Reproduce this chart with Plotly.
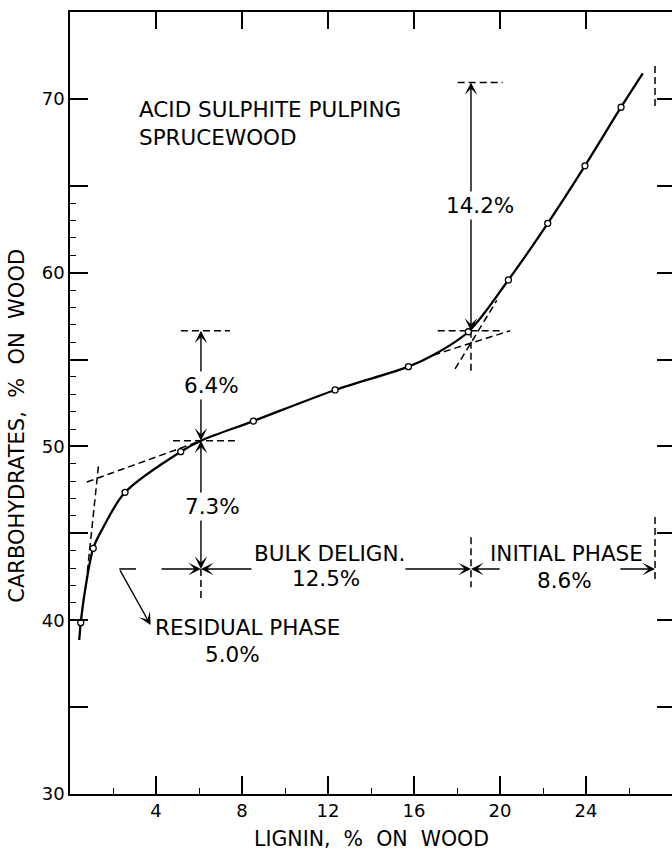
import plotly.graph_objects as go

# ---------------- data ----------------
# measured points (open circles): lignin % on wood vs carbohydrates % on wood
lignin_pts = [0.50, 1.08, 2.56, 5.15, 8.53, 12.33, 15.74, 18.53, 20.39, 22.22, 23.95, 25.63]
carb_pts = [39.86, 44.14, 47.36, 49.70, 51.46, 53.25, 54.59, 56.60, 59.58, 62.84, 66.15, 69.52]

# drawn smooth curve
curve_lignin = [0.43, 0.50, 0.70, 1.08, 1.55, 2.56, 5.15, 6.09, 8.53, 12.33,
                15.74, 16.90, 18.53, 20.39, 22.22, 23.95, 25.63, 26.64]
curve_carb = [38.86, 39.86, 41.71, 44.14, 45.35, 47.36, 49.70, 50.33, 51.46, 53.25,
              54.59, 55.26, 56.60, 59.58, 62.84, 66.15, 69.52, 71.47]

# dashed construction lines: (x0, y0, x1, y1)
dashed_segments = [
    (0.78, 47.95, 6.09, 50.33),     # bulk-line extension towards residual phase
    (1.32, 48.85, 0.78, 42.47),     # residual phase tangent
    (5.16, 56.66, 7.44, 56.66),     # top of 6.4 % bracket
    (4.79, 50.33, 7.77, 50.33),     # 50.3 % level
    (6.09, 42.95, 6.09, 41.20),     # boundary bulk (below arrows)
    (16.90, 55.26, 20.47, 56.66),   # bulk-line extension towards initial phase
    (17.91, 54.46, 19.85, 58.40),   # initial phase tangent
    (17.10, 56.66, 20.13, 56.66),   # 56.7 % level
    (18.65, 56.66, 18.65, 54.24),   # boundary below intersection
    (18.03, 70.95, 20.12, 70.95),   # top of 14.2 % bracket
    (18.65, 44.78, 18.65, 41.90),   # boundary initial (arrows)
    (27.21, 45.94, 27.21, 42.31),   # end of initial phase (arrows)
    (27.21, 71.89, 27.21, 69.40),   # end of initial phase (top)
]

# arrows: (tail x, tail y, head x, head y)
arrow_segments = [
    (18.65, 63.8, 18.65, 70.95),
    (18.65, 63.8, 18.65, 56.66),
    (6.09, 53.5, 6.09, 56.66),
    (6.09, 53.5, 6.09, 50.33),
    (6.09, 46.5, 6.09, 50.33),
    (6.09, 46.5, 6.09, 42.95),
    (4.19, 42.95, 6.09, 42.95),
    (8.51, 42.95, 6.09, 42.95),
    (15.53, 42.95, 18.65, 42.95),
    (20.05, 42.95, 18.65, 42.95),
    (25.53, 42.95, 27.21, 42.95),
    (2.29, 42.95, 3.75, 39.72),
]
residual_bar = (2.29, 3.07, 42.95)

# labels: (text, x, y, anchor, white background)
labels = [
    ("ACID SULPHITE PULPING<br>SPRUCEWOOD", 3.10, 68.57, "left", False),
    ("14.2%", 19.05, 63.89, "center", True),
    ("6.4%", 6.56, 53.52, "center", True),
    ("7.3%", 6.65, 46.53, "center", True),
    ("BULK DELIGN.", 12.09, 43.83, "center", False),
    ("12.5%", 11.90, 42.40, "center", False),
    ("INITIAL PHASE", 23.07, 43.84, "center", False),
    ("8.6%", 22.99, 42.29, "center", False),
    ("RESIDUAL PHASE", 8.26, 39.60, "center", False),
    ("5.0%", 7.56, 38.03, "center", False),
]

x_major = [4, 8, 12, 16, 20, 24]
x_minor = [2, 6, 10, 14, 18, 22, 26]
y_major = [30, 35, 40, 45, 50, 55, 60, 65, 70]
y_major_text = ["30", "", "40", "", "50", "", "60", "", "70"]
y_minor = [v for v in range(41, 65) if v % 5 != 0]
y_right = [35, 40, 45, 50, 55, 60, 65, 70]

x_title = "LIGNIN,\u00a0 %\u00a0 ON\u00a0 WOOD"
y_title = "CARBOHYDRATES,\u00a0 %\u00a0 ON\u00a0 WOOD"

FONT = "DejaVu Sans"
INK = "black"

# ---------------- figure ----------------
fig = go.Figure()

for (x0, y0, x1, y1) in dashed_segments:
    fig.add_trace(go.Scatter(x=[x0, x1], y=[y0, y1], mode="lines",
                             line=dict(color=INK, width=1.5, dash="7px,4px"),
                             hoverinfo="skip", showlegend=False))

fig.add_trace(go.Scatter(x=[residual_bar[0], residual_bar[1]], y=[residual_bar[2], residual_bar[2]],
                         mode="lines", line=dict(color=INK, width=1.5),
                         hoverinfo="skip", showlegend=False))

fig.add_trace(go.Scatter(x=curve_lignin, y=curve_carb, mode="lines",
                         line=dict(color=INK, width=2.3, shape="spline", smoothing=0.9),
                         hoverinfo="skip", showlegend=False))

fig.add_trace(go.Scatter(x=lignin_pts, y=carb_pts, mode="markers", xaxis="x2", yaxis="y2",
                         marker=dict(symbol="circle", size=6, color="white",
                                     line=dict(color=INK, width=1.3)),
                         showlegend=False))

for (tx, ty, hx, hy) in arrow_segments:
    fig.add_annotation(x=hx, y=hy, ax=tx, ay=ty, xref="x", yref="y", axref="x", ayref="y",
                       text="", showarrow=True, arrowhead=3, arrowsize=1.5, arrowwidth=1.4,
                       arrowcolor=INK, standoff=0)

for (txt, x, y, anchor, bg) in labels:
    fig.add_annotation(x=x, y=y, xref="x", yref="y", text=txt, showarrow=False,
                       xanchor=anchor, yanchor="middle", align="left",
                       font=dict(family=FONT, size=21.5, color=INK),
                       bgcolor="white" if bg else "rgba(0,0,0,0)", borderpad=1)

fig.add_annotation(x=0.5, y=-0.0575, xref="paper", yref="paper", text=x_title, showarrow=False,
                   xanchor="center", yanchor="middle", font=dict(family=FONT, size=20.5, color=INK))
fig.add_annotation(x=-0.088, y=0.471, xref="paper", yref="paper", text=y_title, showarrow=False,
                   textangle=-90, xanchor="center", yanchor="middle",
                   font=dict(family=FONT, size=21, color=INK))

axis_common = dict(showgrid=False, zeroline=False, linecolor=INK, tickcolor=INK,
                   tickfont=dict(family=FONT, size=18, color=INK))

fig.update_layout(
    width=672, height=853, autosize=False,
    margin=dict(l=70, r=0, t=12, b=59),
    paper_bgcolor="white", plot_bgcolor="white",
    showlegend=False,
    xaxis=dict(range=[0, 28], showline=True, linewidth=1.6, ticks="inside", ticklen=18,
               tickwidth=1.5, tickmode="array", tickvals=x_major,
               ticktext=[str(v) for v in x_major],
               minor=dict(tickmode="array", tickvals=x_minor, ticks="inside", ticklen=6,
                          tickwidth=1.3, tickcolor=INK, showgrid=False),
               **axis_common),
    xaxis2=dict(range=[0, 28], overlaying="x", side="top", anchor="y", showline=True,
                linewidth=1.6, ticks="inside", ticklen=17, tickwidth=1.5, tickmode="array",
                tickvals=x_major, showticklabels=False, **axis_common),
    yaxis=dict(range=[30, 75], showline=True, linewidth=1.6, ticks="inside", ticklen=18,
               tickwidth=1.5, tickmode="array", tickvals=y_major, ticktext=y_major_text,
               minor=dict(tickmode="array", tickvals=y_minor, ticks="inside", ticklen=6,
                          tickwidth=1.3, tickcolor=INK, showgrid=False),
               **axis_common),
    yaxis2=dict(range=[30, 75], overlaying="y", side="right", anchor="x", showline=False,
                ticks="inside", ticklen=15, tickwidth=1.5, tickmode="array",
                tickvals=y_right, showticklabels=False, **axis_common),
)

fig.write_html("out.html")
